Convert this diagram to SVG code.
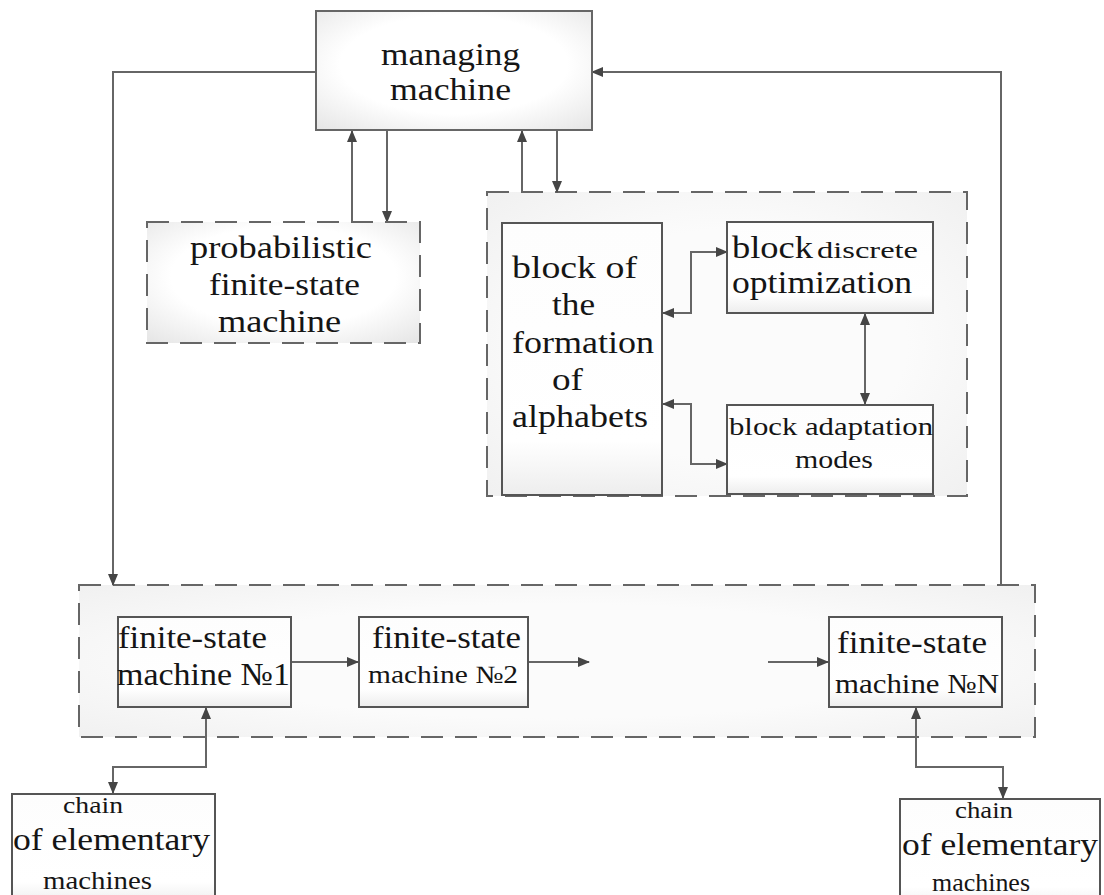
<svg xmlns="http://www.w3.org/2000/svg" width="1104" height="895" viewBox="0 0 1104 895">
<defs>
<radialGradient id="gBox" cx="0.5" cy="0.45" r="0.75">
<stop offset="0.55" stop-color="#ffffff"/>
<stop offset="1" stop-color="#e4e4e4"/>
</radialGradient>
<radialGradient id="gCont" cx="0.5" cy="0.5" r="0.75">
<stop offset="0.5" stop-color="#fbfbfb"/>
<stop offset="1" stop-color="#efefef"/>
</radialGradient>
<linearGradient id="gInner" x1="0" y1="0" x2="0" y2="1">
<stop offset="0" stop-color="#fdfdfd"/>
<stop offset="0.8" stop-color="#ffffff"/>
<stop offset="1" stop-color="#ededed"/>
</linearGradient>
<marker id="ah" viewBox="0 0 12 10" refX="11" refY="5" markerWidth="12" markerHeight="10" markerUnits="userSpaceOnUse" orient="auto-start-reverse">
<path d="M0,0 L12,5 L0,10 Z" fill="#454545"/>
</marker>
<style>
.solid{fill:url(#gInner);stroke:#555;stroke-width:2}
.big{fill:url(#gBox);stroke:#666;stroke-width:2}
.dash{fill:url(#gCont);stroke:#666;stroke-width:2;stroke-dasharray:22 12}
.dashb{fill:url(#gBox);stroke:#666;stroke-width:2;stroke-dasharray:22 12}
.ca{fill:none;stroke:#666;stroke-width:2;marker-end:url(#ah)}
.cb{fill:none;stroke:#666;stroke-width:2;marker-end:url(#ah);marker-start:url(#ah)}
text{font-family:"Liberation Serif","Times New Roman",serif;fill:#151515;font-size:32px}
.s22{font-size:23px}
.s24{font-size:25px}
.s27{font-size:28px}
</style>
</defs>

<g id="container-bottom">
<rect x="79" y="585" width="956" height="152" class="dash"/>
</g>
<g id="container-right">
<rect x="487" y="192" width="480" height="304" class="dash"/>
</g>

<g id="connectors">
<polyline points="316,72 113,72 113,585" class="ca"/>
<polyline points="1001,586 1001,72 592,72" class="ca"/>
<line x1="352" y1="222" x2="352" y2="131" class="ca"/>
<line x1="387" y1="131" x2="387" y2="222" class="ca"/>
<line x1="522" y1="192" x2="522" y2="131" class="ca"/>
<line x1="557" y1="131" x2="557" y2="192" class="ca"/>
<polyline points="663,313 691,313 691,252 727,252" class="cb"/>
<polyline points="663,404 691,404 691,464 727,464" class="cb"/>
<line x1="865" y1="314" x2="865" y2="404" class="cb"/>
<line x1="291" y1="662" x2="358" y2="662" class="ca"/>
<line x1="528" y1="662" x2="589" y2="662" class="ca"/>
<line x1="768" y1="662" x2="828" y2="662" class="ca"/>
<polyline points="113,793 113,767 206,767 206,708" class="cb"/>
<polyline points="1003,798 1003,767 916,767 916,708" class="cb"/>
</g>

<g id="managing-machine">
<rect x="316" y="11" width="276" height="119" class="big"/>
<text x="381" y="65" textLength="139" lengthAdjust="spacingAndGlyphs">managing</text>
<text x="390" y="100" textLength="121" lengthAdjust="spacingAndGlyphs">machine</text>
</g>

<g id="probabilistic-fsm">
<rect x="147" y="222" width="273" height="121" class="dashb"/>
<text x="190" y="258" textLength="182" lengthAdjust="spacingAndGlyphs">probabilistic</text>
<text x="209" y="295" textLength="151" lengthAdjust="spacingAndGlyphs">finite-state</text>
<text x="218" y="332" textLength="123" lengthAdjust="spacingAndGlyphs">machine</text>
</g>

<g id="block-alphabets">
<rect x="502" y="223" width="160" height="272" class="solid"/>
<text x="512" y="278" textLength="125" lengthAdjust="spacingAndGlyphs">block of</text>
<text x="552" y="315" textLength="43" lengthAdjust="spacingAndGlyphs">the</text>
<text x="512" y="353" textLength="142" lengthAdjust="spacingAndGlyphs">formation</text>
<text x="552" y="390" textLength="31" lengthAdjust="spacingAndGlyphs">of</text>
<text x="512" y="427" textLength="136" lengthAdjust="spacingAndGlyphs">alphabets</text>
</g>

<g id="block-discrete-optimization">
<rect x="727" y="222" width="206" height="91" class="solid"/>
<text x="732" y="258" textLength="81" lengthAdjust="spacingAndGlyphs">block</text>
<text x="817" y="258" class="s22" textLength="101" lengthAdjust="spacingAndGlyphs">discrete</text>
<text x="732" y="293" textLength="180" lengthAdjust="spacingAndGlyphs">optimization</text>
</g>

<g id="block-adaptation-modes">
<rect x="727" y="405" width="206" height="89" class="solid"/>
<text x="729" y="435" class="s24" textLength="204" lengthAdjust="spacingAndGlyphs">block adaptation</text>
<text x="795" y="468" class="s24" textLength="78" lengthAdjust="spacingAndGlyphs">modes</text>
</g>

<g id="fsm-1">
<rect x="118" y="617" width="173" height="90" class="solid"/>
<text x="118" y="648" textLength="149" lengthAdjust="spacingAndGlyphs">finite-state</text>
<text x="117" y="685" textLength="173" lengthAdjust="spacingAndGlyphs">machine №1</text>
</g>

<g id="fsm-2">
<rect x="359" y="617" width="169" height="90" class="solid"/>
<text x="372" y="648" textLength="149" lengthAdjust="spacingAndGlyphs">finite-state</text>
<text x="368" y="683" class="s24" textLength="150" lengthAdjust="spacingAndGlyphs">machine №2</text>
</g>

<g id="fsm-n">
<rect x="829" y="617" width="173" height="90" class="solid"/>
<text x="837" y="653" textLength="150" lengthAdjust="spacingAndGlyphs">finite-state</text>
<text x="835" y="693" class="s27" textLength="164" lengthAdjust="spacingAndGlyphs">machine №N</text>
</g>

<g id="chain-left">
<rect x="12" y="794" width="203" height="110" class="solid"/>
<text x="63" y="813" class="s22" textLength="60" lengthAdjust="spacingAndGlyphs">chain</text>
<text x="13" y="850" textLength="197" lengthAdjust="spacingAndGlyphs">of elementary</text>
<text x="43" y="889" class="s24" textLength="109" lengthAdjust="spacingAndGlyphs">machines</text>
</g>

<g id="chain-right">
<rect x="900" y="799" width="200" height="110" class="solid"/>
<text x="955" y="818" class="s22" textLength="58" lengthAdjust="spacingAndGlyphs">chain</text>
<text x="902" y="855" textLength="196" lengthAdjust="spacingAndGlyphs">of elementary</text>
<text x="932" y="891" class="s24" textLength="98" lengthAdjust="spacingAndGlyphs">machines</text>
</g>
</svg>
